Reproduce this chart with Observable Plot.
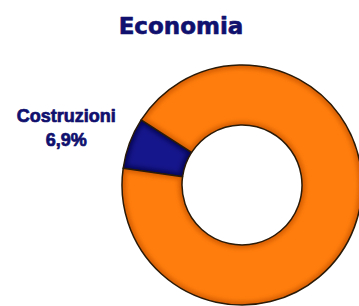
<!DOCTYPE html>
<html><head><meta charset="utf-8">
<script src="https://cdn.jsdelivr.net/npm/d3@7"></script>
<script src="https://cdn.jsdelivr.net/npm/@observablehq/plot@0.6"></script>
<style>html,body{margin:0;padding:0;background:#fff;overflow:hidden;} #chart svg{display:block}</style>
</head><body><div id="chart"></div>
<script>
// ---- data ----
const title = "Economia";
const categories = ["Costruzioni", "Altri settori"];
const values = [6.9, 93.1];
const colors = ["#16168c", "#ff7d0c"];
const edgeColors = ["#08084a", "#c85400"];
const labeledCategories = ["Costruzioni"];

// ---- layout ----
const W = 359, H = 306;
const centerX = 242, centerY = 185, outerPx = 120;
const innerRatio = 0.5;
const startDeg = 278;

const data = categories.map((c, i) => ({category: c, value: values[i], color: colors[i], edge: edgeColors[i]}));
const a0 = startDeg * Math.PI / 180;
const arcs = d3.pie().sort(null).value(d => d.value).startAngle(a0).endAngle(a0 + 2 * Math.PI)(data);

const labels = arcs.filter(a => labeledCategories.includes(a.data.category)).map(a => {
  const m = (a.startAngle + a.endAngle) / 2, r = 1.55;
  return {x: r * Math.sin(m), y: r * Math.cos(m),
          text: a.data.category + "\n" + a.data.value.toFixed(1).replace(".", ",") + "%"};
});

function donut(index, scales) {
  const cx = scales.x(0), cy = scales.y(0);
  const R = scales.x(1) - cx;
  const arc = d3.arc().innerRadius(R * innerRatio).outerRadius(R);
  const g = d3.create("svg:g").attr("transform", `translate(${cx},${cy})`);
  const defs = g.append("defs");
  defs.append("filter").attr("id", "bevelBlur").attr("x", "-20%").attr("y", "-20%").attr("width", "140%").attr("height", "140%")
    .append("feGaussianBlur").attr("stdDeviation", 2.2);
  arcs.forEach((d, i) => {
    defs.append("clipPath").attr("id", "slice-clip-" + i).append("path").attr("d", arc(d));
  });
  const slices = g.selectAll("g.slice").data(arcs).join("g").attr("class", "slice");
  slices.append("path").attr("d", arc).attr("fill", d => d.data.color);
  slices.append("g").attr("clip-path", (d, i) => `url(#slice-clip-${i})`)
    .append("path").attr("d", arc).attr("fill", "none")
    .attr("stroke", d => d.data.edge).attr("stroke-width", 7).attr("stroke-opacity", 0.75)
    .attr("filter", "url(#bevelBlur)");
  slices.append("path").attr("d", arc).attr("fill", "none")
    .attr("stroke", "#2a1a08").attr("stroke-width", 1.5).attr("stroke-linejoin", "round");
  return g.node();
}

const chart = Plot.plot({
  width: W, height: H, margin: 0,
  x: {domain: [-centerX / outerPx, (W - centerX) / outerPx], axis: null},
  y: {domain: [-(H - centerY) / outerPx, centerY / outerPx], axis: null},
  marks: [
    donut,
    Plot.text(labels, {x: "x", y: "y", text: "text", dx: -2, dy: 6,
      fontSize: 18, fontWeight: "bold", fontFamily: "Liberation Sans, Arial, sans-serif",
      lineHeight: 1.33, fill: "#10106e", stroke: "#10106e", strokeWidth: 0.7, textAnchor: "middle"}),
    Plot.text([title], {frameAnchor: "top", dy: 17, dx: 1, fontSize: 23, fontWeight: "bold",
      fontFamily: "DejaVu Sans, sans-serif", fill: "#10106e", stroke: "#10106e", strokeWidth: 0.6})
  ]
});
document.getElementById("chart").append(chart);
</script>
</body></html>
